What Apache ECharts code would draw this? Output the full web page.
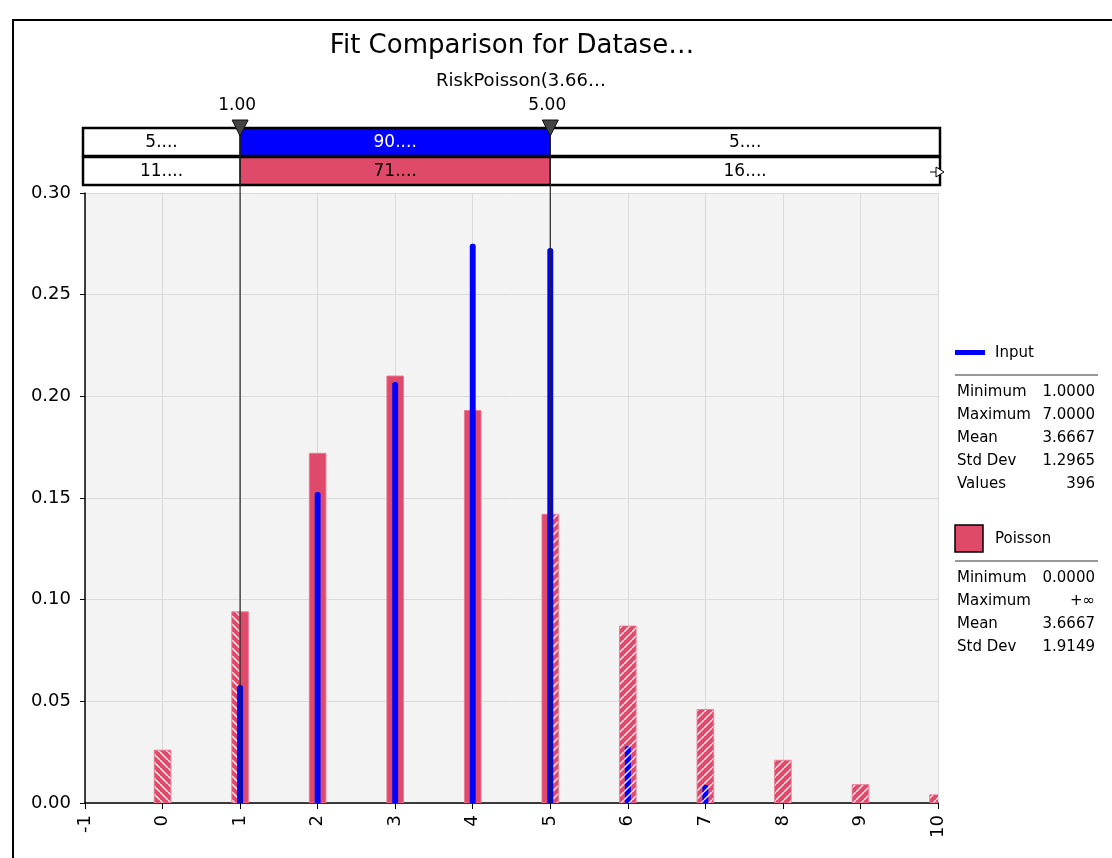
<!DOCTYPE html>
<html><head><meta charset="utf-8">
<script src="https://cdn.jsdelivr.net/npm/echarts@6/dist/echarts.min.js"></script>
<style>html,body{margin:0;padding:0;background:#fff}#c{width:1112px;height:858px}</style>
</head><body><div id="c"></div>
<script>
// ---- data ----
const titleText = 'Fit Comparison for Datase…';
const subtitleText = 'RiskPoisson(3.66…';
const poissonX = [0, 1, 2, 3, 4, 5, 6, 7, 8, 9, 10];
const poissonP = [0.026, 0.094, 0.172, 0.210, 0.193, 0.142, 0.087, 0.046, 0.021, 0.009, 0.004];
const inputX = [1, 2, 3, 4, 5, 6, 7];
const inputP = [0.058, 0.153, 0.207, 0.275, 0.273, 0.028, 0.009];
const leftDelim = 1;
const rightDelim = 5;
const delimLabels = ['1.00', '5.00'];
const inputBandLabels = ['5....', '90....', '5....'];
const fitBandLabels = ['11....', '71....', '16....'];
const inputName = 'Input';
const fitName = 'Poisson';
const inputStats = [['Minimum', '1.0000'], ['Maximum', '7.0000'], ['Mean', '3.6667'], ['Std Dev', '1.2965'], ['Values', '396']];
const fitStats = [['Minimum', '0.0000'], ['Maximum', '+∞'], ['Mean', '3.6667'], ['Std Dev', '1.9149']];
const xMin = -1, xMax = 10, xStep = 1;
const yMin = 0, yMax = 0.3, yStep = 0.05;

// ---- styles ----
const RED = '#e04a6a';
const BLUE = '#0000ff';
const FONT = '"DejaVu Sans", Verdana, sans-serif';

function hatch(base, dir) {
  const s = 8;
  const c = document.createElement('canvas');
  c.width = s; c.height = s;
  const g = c.getContext('2d');
  g.fillStyle = base; g.fillRect(0, 0, s, s);
  g.strokeStyle = 'rgba(255,255,255,0.92)'; g.lineWidth = 1.4;
  g.beginPath();
  for (const k of [-s, 0, s]) {
    if (dir === '/') { g.moveTo(k, s); g.lineTo(k + s, 0); }
    else { g.moveTo(k, 0); g.lineTo(k + s, s); }
  }
  g.stroke();
  return c;
}
const redL = hatch(RED, '\\'), redR = hatch(RED, '/');
const blueL = hatch(BLUE, '\\'), blueR = hatch(BLUE, '/');

// split: true = split each bar at the delimiters; false = style by bar centre
function makeRender(halfW, solid, hL, hR, stroke, split, radius) {
  return function (params, api) {
    const x = api.value(0), y = api.value(1);
    const xs = v => api.coord([v, 0])[0];
    const y0 = api.coord([x, 0])[1], y1 = api.coord([x, y])[1];
    const a = x - halfW, b = x + halfW;
    const segs = [];
    const add = (l, r, fill) => {
      if (r > l) {
        const pl = xs(l), pr = xs(r);
        segs.push({ type: 'rect', shape: { x: pl, y: y1, width: pr - pl, height: y0 - y1, r: radius ? [radius, radius, 0, 0] : 0 },
          style: { fill: fill, stroke: stroke, lineWidth: stroke ? 1 : 0 } });
      }
    };
    if (split) {
      add(a, Math.min(b, leftDelim), { image: hL, repeat: 'repeat' });
      add(Math.max(a, leftDelim), Math.min(b, rightDelim), solid);
      add(Math.max(a, rightDelim), b, { image: hR, repeat: 'repeat' });
    } else {
      const f = x < leftDelim ? { image: hL, repeat: 'repeat' } : (x > rightDelim ? { image: hR, repeat: 'repeat' } : solid);
      add(a, b, f);
    }
    return { type: 'group', children: segs };
  };
}

const chart = echarts.init(document.getElementById('c'), null, { renderer: 'canvas' });
const option = {
  backgroundColor: '#ffffff',
  animation: false,
  title: [
    { text: titleText, left: 507, top: 28, textAlign: 'center',
      textStyle: { fontFamily: FONT, fontSize: 26, fontWeight: 'normal', color: '#000' } },
    { text: subtitleText, left: 516, top: 67, textAlign: 'center',
      textStyle: { fontFamily: FONT, fontSize: 18, fontWeight: 'normal', color: '#000' } }
  ],
  grid: { left: 85, right: 174, top: 193, bottom: 55, show: true, backgroundColor: '#f3f3f3', borderWidth: 0 },
  xAxis: {
    type: 'value', min: xMin, max: xMax, interval: xStep,
    axisLine: { show: true, onZero: false, lineStyle: { color: '#000', width: 1.5 } },
    axisTick: { show: true, length: 6, lineStyle: { color: '#000' } },
    axisLabel: { rotate: 90, fontSize: 18, fontFamily: FONT, color: '#000', margin: 12 },
    splitLine: { show: true, lineStyle: { color: '#dadada', width: 1 } }
  },
  yAxis: {
    type: 'value', min: yMin, max: yMax, interval: yStep,
    axisLine: { show: true, onZero: false, lineStyle: { color: '#000', width: 1.5 } },
    axisTick: { show: true, length: 5, lineStyle: { color: '#000' } },
    axisLabel: { fontSize: 18, fontFamily: FONT, color: '#000', margin: 14, formatter: v => v.toFixed(2) },
    splitLine: { show: true, lineStyle: { color: '#dadada', width: 1 } }
  },
  series: [
    { type: 'custom', name: fitName, clip: true,
      data: poissonX.map((x, i) => [x, poissonP[i]]),
      encode: { x: 0, y: 1 },
      renderItem: makeRender(0.107, RED, redL, redR, 'rgba(235,120,145,0.9)', true, 0) },
    { type: 'custom', name: inputName, clip: true,
      data: inputX.map((x, i) => [x, inputP[i]]),
      encode: { x: 0, y: 1 },
      renderItem: makeRender(0.038, BLUE, blueL, blueR, null, false, 2.5) }
  ]
};
chart.setOption(option);

// ---- overlay graphics positioned via the axes ----
const px = v => chart.convertToPixel({ xAxisIndex: 0 }, v);
const py = v => chart.convertToPixel({ yAxisIndex: 0 }, v);
const xL = px(xMin) - 2, xR = px(xMax) + 2;
const x1 = px(leftDelim), x5 = px(rightDelim);
const y0 = py(0);
const g = [];
// frame
g.push({ type: 'rect', shape: { x: 13, y: 20, width: 1130, height: 880 }, style: { fill: 'none', stroke: '#000', lineWidth: 2 }, z: 100 });
// bands
const rows = [{ y: 128, h: 28, fills: ['#fff', BLUE, '#fff'], labels: inputBandLabels, colors: ['#000', '#fff', '#000'] },
              { y: 157, h: 28, fills: ['#fff', RED, '#fff'], labels: fitBandLabels, colors: ['#000', '#000', '#000'] }];
rows.forEach(r => {
  const edges = [xL, x1, x5, xR];
  for (let i = 0; i < 3; i++) {
    g.push({ type: 'rect', shape: { x: edges[i], y: r.y, width: edges[i + 1] - edges[i], height: r.h },
      style: { fill: r.fills[i], stroke: '#000', lineWidth: 1 }, z: 50 });
    g.push({ type: 'text', x: (edges[i] + edges[i + 1]) / 2, y: r.y + r.h / 2 + 1,
      style: { text: r.labels[i], font: '17px ' + FONT, fill: r.colors[i], align: 'center', verticalAlign: 'middle' }, z: 52 });
  }
  g.push({ type: 'rect', shape: { x: xL, y: r.y, width: xR - xL, height: r.h }, style: { fill: 'none', stroke: '#000', lineWidth: 2.5 }, z: 53 });
});
// arrow at right end of fit band
g.push({ type: 'line', shape: { x1: xR - 10, y1: 172, x2: xR - 3, y2: 172 }, style: { stroke: '#000', lineWidth: 1 }, z: 60 });
g.push({ type: 'polygon', shape: { points: [[xR - 4, 167], [xR + 4, 172], [xR - 4, 177]] }, style: { fill: '#fff', stroke: '#000', lineWidth: 1 }, z: 60 });
// delimiters
[[x1, delimLabels[0]], [x5, delimLabels[1]]].forEach(([x, lab]) => {
  g.push({ type: 'line', shape: { x1: x, y1: 122, x2: x, y2: y0 }, style: { stroke: '#222', lineWidth: 1.2 }, z: 70 });
  g.push({ type: 'polygon', shape: { points: [[x - 8, 120], [x + 8, 120], [x, 136]] }, style: { fill: '#444', stroke: '#111', lineWidth: 1 }, z: 71 });
  g.push({ type: 'text', x: x - 3, y: 106, style: { text: lab, font: '17px ' + FONT, fill: '#000', align: 'center', verticalAlign: 'middle' }, z: 71 });
});
// legend: input
g.push({ type: 'rect', shape: { x: 955, y: 350, width: 30, height: 5 }, style: { fill: BLUE } });
g.push({ type: 'text', x: 995, y: 353, style: { text: inputName, font: '15px ' + FONT, fill: '#000', verticalAlign: 'middle' } });
g.push({ type: 'line', shape: { x1: 955, y1: 375, x2: 1098, y2: 375 }, style: { stroke: '#999', lineWidth: 2 } });
inputStats.forEach((s, i) => {
  const yy = 392 + 23 * i;
  g.push({ type: 'text', x: 957, y: yy, style: { text: s[0], font: '15px ' + FONT, fill: '#000', verticalAlign: 'middle' } });
  g.push({ type: 'text', x: 1095, y: yy, style: { text: s[1], font: '15px ' + FONT, fill: '#000', align: 'right', verticalAlign: 'middle' } });
});
// legend: poisson
g.push({ type: 'rect', shape: { x: 955, y: 525, width: 28, height: 27 }, style: { fill: RED, stroke: '#000', lineWidth: 1.5 } });
g.push({ type: 'text', x: 995, y: 539, style: { text: fitName, font: '15px ' + FONT, fill: '#000', verticalAlign: 'middle' } });
g.push({ type: 'line', shape: { x1: 955, y1: 561, x2: 1098, y2: 561 }, style: { stroke: '#999', lineWidth: 2 } });
fitStats.forEach((s, i) => {
  const yy = 578 + 23 * i;
  g.push({ type: 'text', x: 957, y: yy, style: { text: s[0], font: '15px ' + FONT, fill: '#000', verticalAlign: 'middle' } });
  g.push({ type: 'text', x: 1095, y: yy, style: { text: s[1], font: '15px ' + FONT, fill: '#000', align: 'right', verticalAlign: 'middle' } });
});
chart.setOption({ graphic: g });
</script></body></html>
